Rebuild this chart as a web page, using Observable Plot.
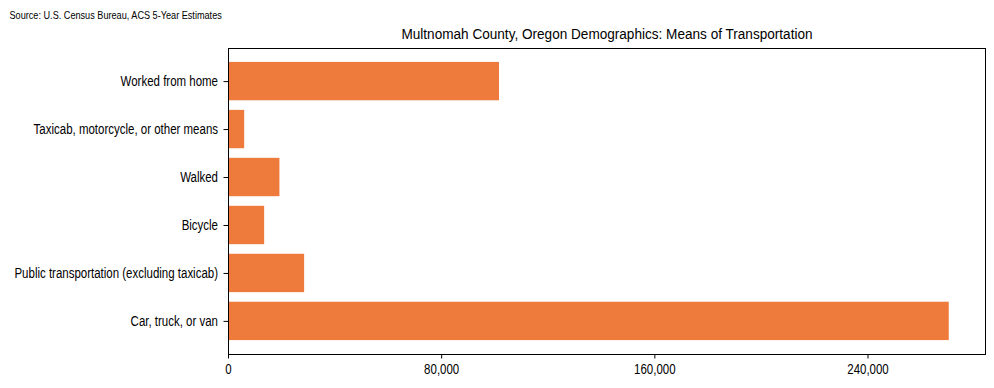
<!DOCTYPE html>
<html>
<head>
<meta charset="utf-8">
<script src="https://cdn.jsdelivr.net/npm/d3@7"></script>
<script src="https://cdn.jsdelivr.net/npm/@observablehq/plot@0.6"></script>
<style>
  html, body { margin: 0; padding: 0; background: #fff; }
</style>
</head>
<body>
<div id="chart"></div>
<script>
const titleText = "Multnomah County, Oregon Demographics: Means of Transportation";
const sourceText = "Source: U.S. Census Bureau, ACS 5-Year Estimates";
const categories = [
  "Worked from home",
  "Taxicab, motorcycle, or other means",
  "Walked",
  "Bicycle",
  "Public transportation (excluding taxicab)",
  "Car, truck, or van"
];
const values = [101700, 6070, 19300, 13570, 28570, 270500];
const xTicks = [0, 80000, 160000, 240000];

const data = categories.map((c, i) => ({category: c, value: values[i]}));

const chart = Plot.plot({
  width: 994,
  height: 388,
  marginLeft: 228,
  marginRight: 9,
  marginTop: 48,
  marginBottom: 34,
  style: {fontFamily: "'Liberation Sans', Arial, sans-serif", fontSize: "14px", color: "#000", background: "#fff"},
  x: {domain: [0, 284100], label: null},
  y: {domain: categories, paddingInner: 0.2, paddingOuter: 0.29, round: false, label: null},
  marks: [
    Plot.barX(data, {x: "value", y: "category", fill: "#ee7b3b"}),
    Plot.frame({stroke: "#000", strokeWidth: 1}),
    Plot.axisX({ticks: xTicks, tickFormat: d3.format(","), tickSize: 4.5, tickPadding: 5, label: null, fontSize: 14}),
    Plot.axisY({tickSize: 4.5, tickPadding: 6, label: null, fontSize: 14}),
    Plot.text([titleText], {text: d => d, frameAnchor: "top", dy: -19, fontSize: 14, className: "title-text"}),
    Plot.text([sourceText], {text: d => d, frameAnchor: "top-left", textAnchor: "start", dx: -219, dy: -37, fontSize: 11, className: "source-text"})
  ]
});
document.getElementById("chart").appendChild(chart);

// Condense glyphs horizontally to match the reference's narrow typeface
function condense(selector, factor) {
  chart.querySelectorAll(selector).forEach(t => {
    const w = t.getComputedTextLength();
    if (w > 0) {
      t.setAttribute("textLength", (w * factor).toFixed(2));
      t.setAttribute("lengthAdjust", "spacingAndGlyphs");
    }
  });
}
condense('g[aria-label="x-axis tick label"] text', 0.82);
condense('g[aria-label="y-axis tick label"] text', 0.82);
condense('.title-text text', 0.97);
condense('.source-text text', 0.83);
</script>
</body>
</html>
